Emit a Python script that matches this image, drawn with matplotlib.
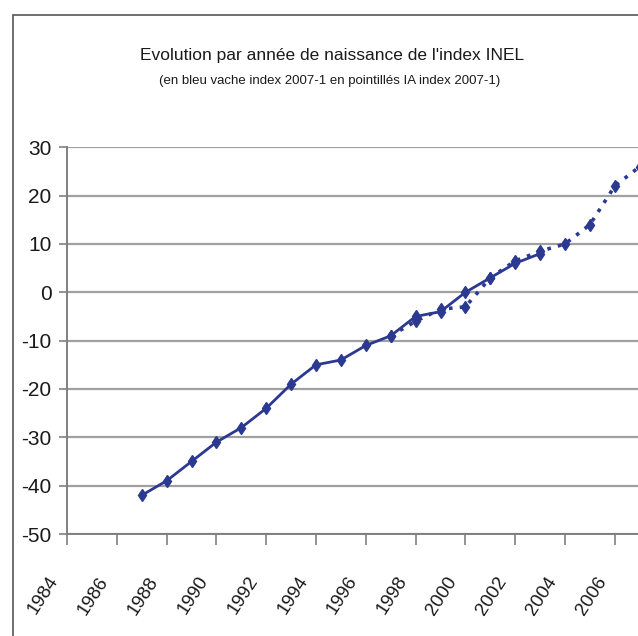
import matplotlib
matplotlib.use("Agg")
import matplotlib.pyplot as plt
from matplotlib.transforms import ScaledTranslation
from matplotlib.patches import Rectangle

plt.rcParams['font.family'] = ['Liberation Sans', 'DejaVu Sans']
plt.rcParams['axes.unicode_minus'] = False

# vache index 2007-1 (solid)
years_cow = [1987, 1988, 1989, 1990, 1991, 1992, 1993, 1994, 1995, 1996,
             1997, 1998, 1999, 2000, 2001, 2002, 2003]
index_cow = [-42, -39, -35, -31, -28, -24, -19, -15, -14, -11,
             -9, -5, -4, 0, 3, 6, 8]

# IA index 2007-1 (dotted)
years_ia = [1997, 1998, 1999, 2000, 2001, 2002, 2003, 2004, 2005, 2006, 2007]
index_ia = [-9, -6, -3.5, -3, 3, 6.5, 8.5, 10, 14, 22, 26]

xticks = list(range(1984, 2007, 2))
yticks = list(range(-50, 31, 10))

title = "Evolution par année de naissance de l'index INEL"
subtitle = "(en bleu vache index 2007-1 en pointillés IA index 2007-1)"

navy = '#2B3990'

fig = plt.figure(figsize=(6.38, 6.36), dpi=100)
fig.patch.set_facecolor('white')

# outer frame of the chart (cut off on the right and bottom)
fig.patches.append(Rectangle((12.5 / 638, -0.05), 1.1, 1 - 14.5 / 636 + 0.05,
                             transform=fig.transFigure, fill=False,
                             edgecolor='#555555', linewidth=1.2))

ax = fig.add_axes([67 / 638, (636 - 534) / 636, 597.6 / 638, (534 - 147.3) / 636])
ax.set_facecolor('white')

ax.plot(years_ia, index_ia, color=navy, linestyle=(0, (1, 2)), linewidth=2.6,
        marker='d', markersize=6, zorder=3)
ax.plot(years_cow, index_cow, color=navy, linestyle='-', linewidth=2,
        marker='d', markersize=6, zorder=4)

ax.set_xlim(1984, 2008)
ax.set_ylim(-50, 30)
ax.set_yticks(yticks)
ax.set_xticks(xticks)
ax.set_xticklabels([str(y) for y in xticks], rotation=57, ha='right', va='center',
                   rotation_mode='anchor', fontsize=13.5, color='#1a1a1a')
ax.tick_params(axis='y', labelsize=15, labelcolor='#1a1a1a', length=6, width=1.2,
               color='#808080', pad=5, direction='out')
ax.tick_params(axis='x', length=8, width=1.2, color='#808080', pad=0, direction='out')
for lab in ax.get_xticklabels():
    lab.set_transform(lab.get_transform() + ScaledTranslation(-0.12, -0.33, fig.dpi_scale_trans))

ax.grid(axis='y', color='#A0A0A0', linewidth=1.6)
ax.set_axisbelow(True)
for s in ['top', 'right']:
    ax.spines[s].set_visible(False)
for s in ['left', 'bottom']:
    ax.spines[s].set_color('#808080')
    ax.spines[s].set_linewidth(1.4)

fig.text(332 / 638, 1 - 60 / 636, title, ha='center', va='baseline', fontsize=12.5, color='#1a1a1a')
fig.text(330 / 638, 1 - 84 / 636, subtitle, ha='center', va='baseline', fontsize=9.5, color='#1a1a1a')

fig.savefig('out.png', dpi=100)
